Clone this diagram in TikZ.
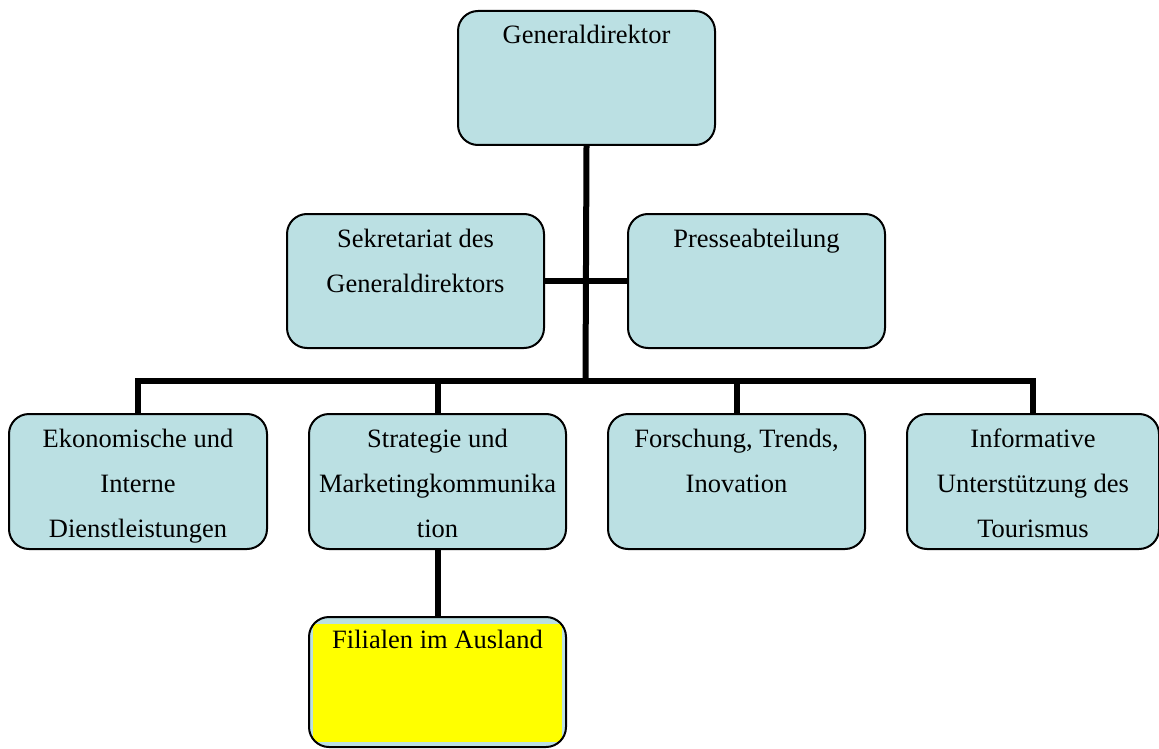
\documentclass[tikz,border=0pt]{standalone}
\usepackage{fontspec}
\setmainfont{Liberation Serif}
\usetikzlibrary{calc}
\definecolor{boxblue}{HTML}{BBE0E3}
\definecolor{boxyellow}{HTML}{FFFF00}
\newcommand{\boxtext}[3]{\parbox[c][#2pt][t]{#1pt}{\centering\rule{0pt}{33pt}#3}}
\begin{document}
\begin{tikzpicture}[x=1pt,y=1pt,
  orgbox/.style={draw=black,line width=2pt,fill=boxblue,rounded corners=20pt,
    inner sep=0pt,anchor=north west,font=\fontsize{26.5}{45}\selectfont},
  yellowinset/.style={path picture={\fill[boxyellow,sharp corners]
      ($(path picture bounding box.north west)+(4,-7)$) rectangle
      ($(path picture bounding box.south east)+(-4,5)$);}},
  conn/.style={draw=black,line width=6pt,line join=miter}]
\useasboundingbox (0,0) rectangle (1159,-749);
\fill[white] (0,0) rectangle (1159,-749);
% boxes
\node[orgbox] (gd) at (457,-10) {\boxtext{257}{134}{Generaldirektor}};
\node[orgbox] (sek) at (286,-213) {\boxtext{257}{134}{Sekretariat des\\Generaldirektors}};
\node[orgbox] (pre) at (627,-213) {\boxtext{257}{134}{Presseabteilung}};
\node[orgbox] (eko) at (8,-413) {\boxtext{258}{135}{Ekonomische und\\Interne\\Dienstleistungen}};
\node[orgbox] (str) at (308,-413) {\boxtext{257}{135}{Strategie und\\Marketingkommunika\\tion}};
\node[orgbox] (for) at (607,-413) {\boxtext{257}{135}{Forschung, Trends,\\Inovation}};
\node[orgbox] (inf) at (906,-413) {\boxtext{252}{135}{Informative\\Unterstützung des\\Tourismus}};
\node[orgbox,yellowinset] (fil) at (308,-616) {\parbox[c][130pt][t]{257pt}{\centering\rule{0pt}{31pt}Filialen im Ausland}};
% connectors
\coordinate (bus) at (585.5,-381);
\draw[conn] (gd.south) -- (bus);
\draw[conn] (sek.east) -- (pre.west);
\draw[conn] (eko.north) |- (bus) -| (inf.north);
\draw[conn] (str.north) -- (str.north |- bus);
\draw[conn] (for.north) -- (for.north |- bus);
\draw[conn] (str.south) -- (fil.north);
\end{tikzpicture}
\end{document}
